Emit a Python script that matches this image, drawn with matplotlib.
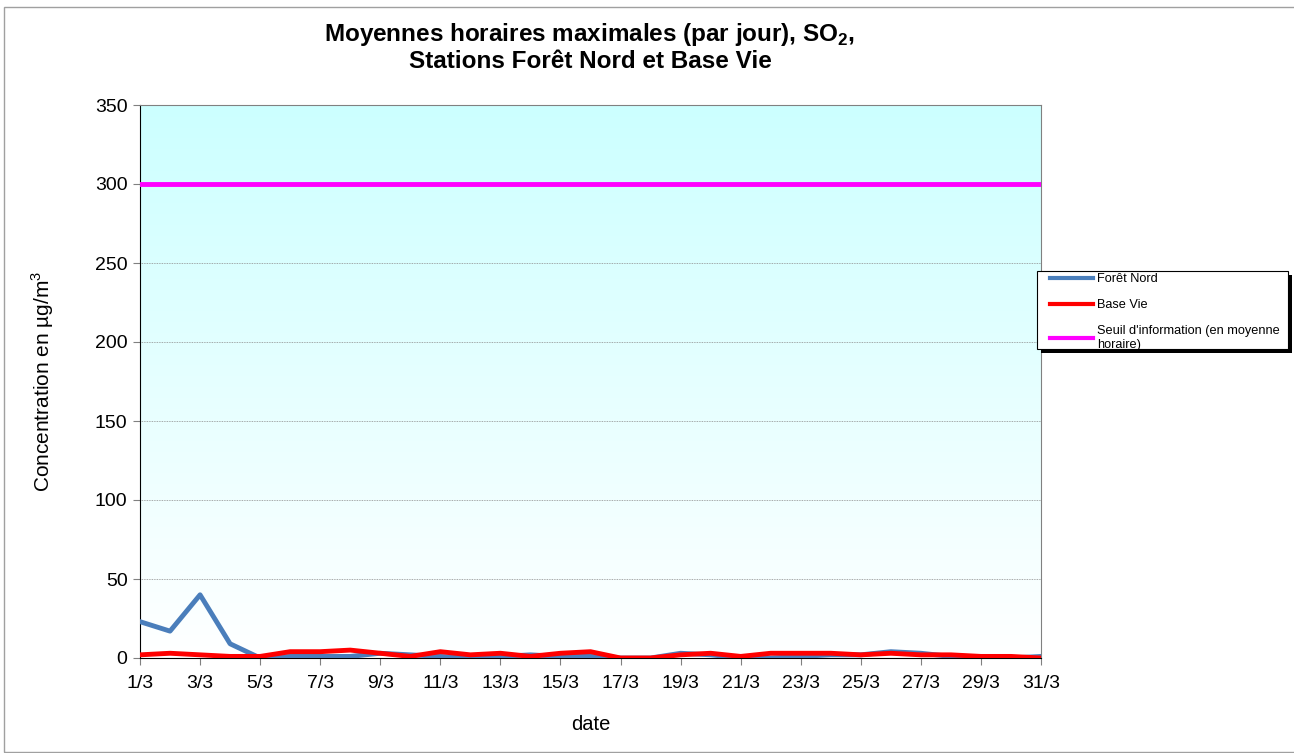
import matplotlib
matplotlib.use("Agg")
import matplotlib.pyplot as plt
from matplotlib.patches import Rectangle
import numpy as np

plt.rcParams["font.family"] = ["Liberation Sans", "DejaVu Sans"]
plt.rcParams["mathtext.fontset"] = "custom"
plt.rcParams["mathtext.rm"] = "Liberation Sans"
plt.rcParams["mathtext.bf"] = "Liberation Sans:bold"

days = list(range(1, 32))
tick_labels = [f"{d}/3" for d in days[::2]]
foret_nord = [23, 17, 40, 9, 0, 1, 1, 1, 3, 2, 1, 0, 1, 2, 1, 1, 0, 0,
              3, 2, 0, 0, 1, 2, 2, 4, 3, 1, 0, 0, 1]
base_vie = [2, 3, 2, 1, 1, 4, 4, 5, 3, 1, 4, 2, 3, 1, 3, 4, 0, 0,
            2, 3, 1, 3, 3, 3, 2, 3, 2, 2, 1, 1, 0]
seuil = 300

W, H = 1294, 753
fig = plt.figure(figsize=(W / 100, H / 100), dpi=100)
fig.patch.set_facecolor("white")
# thin grey frame round the chart
fig.add_artist(Rectangle((4 / W, 0.001), 1.0, 1 - 8 / H, transform=fig.transFigure,
                         fill=False, edgecolor="#a0a0a0", linewidth=1))

ax = fig.add_axes([140 / W, 1 - 658 / H, 901 / W, 553 / H])

# background gradient: white at the bottom, light cyan at the top
grad = np.linspace(0, 1, 256).reshape(-1, 1)
top = np.array([0.80, 1.0, 1.0])
rgb = 1 - grad[..., None] * (1 - top)
ax.imshow(rgb, extent=[0, 1, 0, 1], transform=ax.transAxes, aspect="auto",
          origin="lower", zorder=0)

ax.set_xlim(1, 31)
ax.set_ylim(0, 350)
ax.set_yticks(range(0, 351, 50))
ax.set_xticks(days[::2])
ax.set_xticklabels(tick_labels)
ax.grid(axis="y", color="#8c8c8c", linestyle=(0, (1, 1)), linewidth=0.6, zorder=1)
ax.set_axisbelow(True)

ax.plot(days, foret_nord, color="#4a7ebb", linewidth=3.5, label="Forêt Nord", zorder=3)
ax.plot(days, base_vie, color="#ff0000", linewidth=3.5, label="Base Vie", zorder=4)
ax.plot([1, 31], [seuil, seuil], color="#ff00ff", linewidth=3.5,
        label="Seuil d'information (en moyenne\nhoraire)", zorder=4)

for s in ["top", "right"]:
    ax.spines[s].set_color("#808080")
ax.spines["left"].set_color("black")
ax.spines["bottom"].set_color("black")
ax.tick_params(labelsize=14, length=5, color="#808080", direction="out")
ax.tick_params(axis="x", pad=7)
ax.tick_params(axis="y", pad=4)

ax.set_xlabel("date", fontsize=14.5, labelpad=17)
ax.set_ylabel("Concentration en µg/m$^3$", fontsize=15, labelpad=28)

cx = 590 / W
fig.text(cx, 1 - 35 / H, "Moyennes horaires maximales (par jour), SO$_\\mathbf{2}$,",
         ha="center", va="center", fontsize=17.5, fontweight="bold")
fig.text(cx, 1 - 61 / H, "Stations Forêt Nord et Base Vie",
         ha="center", va="center", fontsize=17.5, fontweight="bold")

# legend box with a dark drop shadow
bx0, by0, bx1, by1 = 1037, 271, 1288, 349
fig.add_artist(Rectangle(((bx0 + 4) / W, 1 - (by1 + 4) / H), (bx1 - bx0) / W, (by1 - by0) / H,
                         transform=fig.transFigure, facecolor="black", edgecolor="none", zorder=5))
fig.add_artist(Rectangle((bx0 / W, 1 - by1 / H), (bx1 - bx0) / W, (by1 - by0) / H,
                         transform=fig.transFigure, facecolor="white", edgecolor="black",
                         linewidth=0.8, zorder=6))
leg = fig.legend(loc="upper left", bbox_to_anchor=(1050 / W, 1 - 273 / H),
                 fontsize=9.2, frameon=False, borderpad=0.0,
                 labelspacing=1.1, handlelength=3.4, handletextpad=0.3,
                 borderaxespad=0)
leg.set_zorder(7)
for line in leg.get_lines():
    line.set_linewidth(3)

fig.savefig("out.png", dpi=100)
